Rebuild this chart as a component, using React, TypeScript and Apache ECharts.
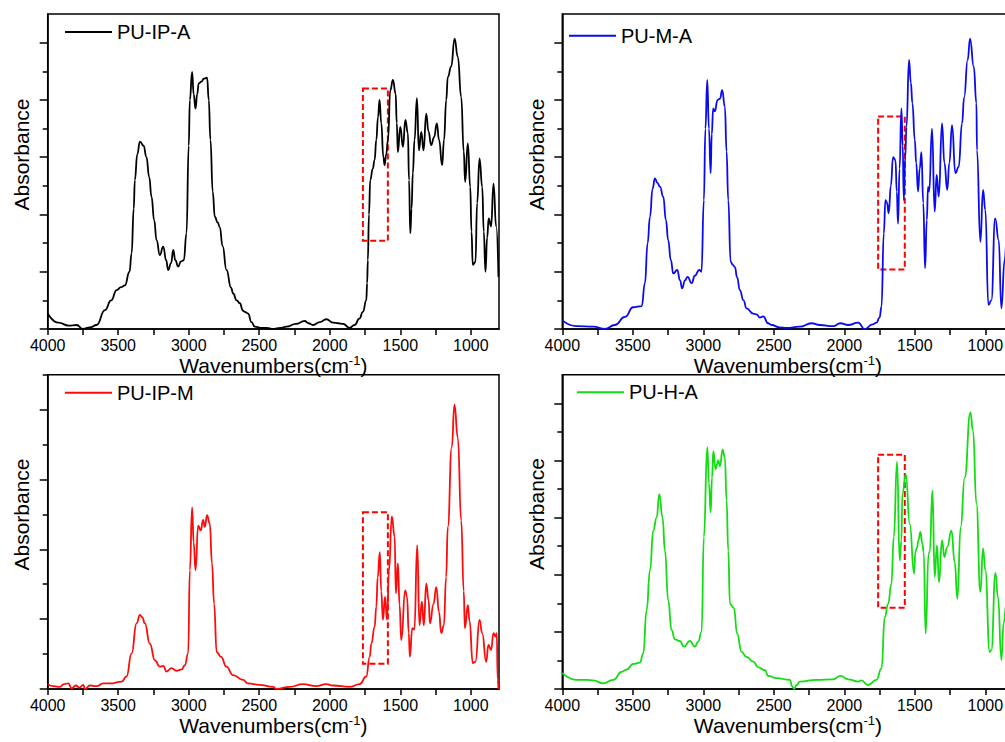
import React, { useEffect, useRef } from "react";
import * as echarts from "echarts";

// FTIR spectra: [wavenumber (cm-1), absorbance (a.u.)]
const puIpA: [number, number][] = [
  [4000, 0.27], [3925, 0.11], [3850, 0.06], [3795, 0.07], [3750, 0.0], [3700, 0.03], [3653, 0.07],
  [3594, 0.33], [3550, 0.5], [3511, 0.68], [3480, 0.73], [3453, 0.76], [3420, 1.0], [3405, 1.32],
  [3390, 2.1], [3382, 2.6], [3365, 3.05], [3346, 3.27], [3320, 3.2], [3300, 3.0], [3280, 2.65],
  [3264, 2.31], [3245, 1.9], [3228, 1.55], [3205, 1.29], [3181, 1.44], [3160, 1.2], [3146, 1.03],
  [3125, 1.15], [3110, 1.38], [3095, 1.2], [3075, 1.09], [3055, 1.18], [3035, 1.2], [3016, 1.67],
  [3000, 3.2], [2992, 4.0], [2976, 4.49], [2965, 4.1], [2952, 3.85], [2940, 4.1], [2929, 4.29],
  [2910, 4.32], [2893, 4.37], [2870, 4.39], [2858, 4.0], [2846, 3.3], [2830, 2.4], [2815, 1.96],
  [2795, 1.86], [2780, 1.78], [2760, 1.45], [2732, 1.03], [2700, 0.72], [2685, 0.62], [2660, 0.5],
  [2638, 0.45], [2615, 0.32], [2603, 0.3], [2579, 0.27], [2555, 0.12], [2532, 0.04], [2480, 0.02],
  [2449, 0.02], [2402, 0.0], [2350, 0.02], [2307, 0.04], [2240, 0.09], [2178, 0.14], [2150, 0.1],
  [2119, 0.07], [2070, 0.12], [2025, 0.17], [1977, 0.11], [1940, 0.1], [1906, 0.09], [1859, 0.02],
  [1824, 0.07], [1790, 0.18], [1765, 0.3], [1741, 0.5], [1735, 0.8], [1730, 1.2], [1722, 2.0],
  [1713, 2.6], [1695, 2.8], [1682, 2.95], [1670, 3.3], [1658, 3.7], [1647, 4.0], [1635, 3.6],
  [1620, 3.0], [1611, 2.86], [1600, 3.05], [1587, 3.3], [1571, 4.17], [1552, 4.35], [1533, 4.11],
  [1525, 3.6], [1517, 3.09], [1500, 3.53], [1481, 3.18], [1464, 3.65], [1446, 3.42], [1438, 2.6],
  [1429, 1.67], [1420, 2.1], [1411, 2.72], [1399, 3.3], [1382, 4.03], [1368, 3.12], [1351, 3.44],
  [1335, 3.12], [1316, 3.76], [1300, 3.45], [1281, 3.21], [1260, 3.35], [1241, 3.59], [1225, 3.3],
  [1203, 2.86], [1190, 3.3], [1174, 4.0], [1163, 4.4], [1139, 4.58], [1115, 5.07], [1092, 4.75],
  [1068, 4.05], [1050, 3.1], [1040, 2.57], [1021, 3.24], [1004, 2.48], [995, 1.7], [986, 1.12],
  [967, 1.17], [955, 2.2], [938, 2.98], [919, 2.48], [908, 1.7], [896, 1.0], [884, 1.6], [873, 1.93],
  [856, 1.79], [839, 2.54], [820, 1.79], [804, 0.91],
];

const puMA: [number, number][] = [
  [4000, 0.15], [3898, 0.05], [3780, 0.04], [3697, 0.0], [3627, 0.07], [3556, 0.21], [3497, 0.38],
  [3437, 0.4], [3414, 0.8], [3395, 1.5], [3378, 1.96], [3360, 2.45], [3343, 2.63], [3325, 2.55],
  [3307, 2.48], [3284, 2.31], [3265, 1.9], [3249, 1.55], [3230, 1.2], [3213, 0.97], [3185, 1.03],
  [3165, 0.85], [3150, 0.71], [3130, 0.85], [3111, 0.91], [3083, 0.8], [3060, 0.93], [3029, 1.03],
  [3013, 1.0], [2996, 2.25], [2985, 3.5], [2972, 4.35], [2960, 3.5], [2948, 2.72], [2940, 3.4],
  [2930, 3.85], [2918, 3.8], [2899, 4.0], [2882, 4.02], [2866, 4.17], [2847, 3.88], [2835, 3.1],
  [2823, 2.25], [2806, 1.17], [2790, 1.12], [2776, 1.08], [2760, 0.9], [2741, 0.68], [2715, 0.5],
  [2693, 0.36], [2646, 0.27], [2620, 0.25], [2599, 0.2], [2575, 0.22], [2540, 0.1], [2516, 0.07],
  [2460, 0.03], [2410, 0.02], [2316, 0.04], [2232, 0.1], [2174, 0.07], [2080, 0.05], [2027, 0.1],
  [1973, 0.07], [1902, 0.11], [1855, 0.0], [1800, 0.08], [1772, 0.11], [1750, 0.2], [1736, 0.39],
  [1720, 1.67], [1708, 2.25], [1697, 2.2], [1685, 2.02], [1670, 2.5], [1654, 3.0], [1637, 2.95],
  [1628, 2.4], [1619, 1.84], [1608, 2.8], [1595, 3.85], [1586, 3.2], [1578, 2.25], [1568, 3.0],
  [1559, 3.53], [1541, 4.7], [1528, 4.3], [1517, 3.94], [1500, 3.3], [1490, 2.9], [1477, 2.4],
  [1465, 2.8], [1453, 3.09], [1440, 2.2], [1427, 1.06], [1415, 1.9], [1406, 2.48], [1398, 2.4],
  [1378, 3.5], [1359, 2.05], [1345, 2.69], [1330, 2.31], [1307, 3.59], [1290, 2.9], [1270, 2.43],
  [1255, 2.9], [1236, 3.56], [1212, 2.72], [1189, 2.83], [1165, 3.59], [1150, 4.05], [1125, 4.7],
  [1108, 5.07], [1082, 4.58], [1063, 3.94], [1059, 3.12], [1035, 1.52], [1016, 2.43], [1000, 2.08],
  [978, 0.42], [957, 0.5], [930, 1.93], [905, 1.55], [886, 0.36], [863, 1.2], [845, 1.7],
  [825, 1.3], [800, 0.9],
];

const puIpM: [number, number][] = [
  [4000, 0.07], [3960, 0.04], [3913, 0.03], [3885, 0.07], [3854, 0.08], [3830, 0.01], [3800, 0.05],
  [3775, 0.02], [3748, 0.06], [3736, 0.0], [3700, 0.05], [3653, 0.04], [3606, 0.08], [3559, 0.08],
  [3476, 0.105], [3441, 0.18], [3405, 0.51], [3370, 0.94], [3346, 1.06], [3330, 1.03], [3311, 0.94],
  [3276, 0.65], [3240, 0.41], [3205, 0.32], [3181, 0.33], [3157, 0.25], [3122, 0.3], [3087, 0.26],
  [3050, 0.28], [3028, 0.34], [3004, 0.51], [2992, 1.7], [2976, 2.6], [2965, 2.1], [2952, 1.7],
  [2933, 2.34], [2915, 2.27], [2898, 2.42], [2886, 2.32], [2870, 2.49], [2851, 2.37], [2835, 1.8],
  [2820, 1.22], [2802, 0.53], [2771, 0.46], [2733, 0.32], [2686, 0.2], [2615, 0.13], [2580, 0.08],
  [2497, 0.06], [2402, 0.03], [2379, 0.0], [2284, 0.03], [2190, 0.07], [2096, 0.04], [2025, 0.07],
  [1977, 0.05], [1859, 0.03], [1788, 0.07], [1741, 0.18], [1717, 0.46], [1705, 0.65], [1682, 0.89],
  [1670, 1.18], [1660, 1.6], [1645, 1.96], [1635, 1.4], [1623, 0.99], [1608, 1.32], [1594, 0.99],
  [1580, 1.7], [1560, 2.47], [1540, 2.18], [1531, 1.37], [1517, 1.8], [1505, 1.2], [1493, 0.7],
  [1465, 1.41], [1452, 1.32], [1440, 0.8], [1432, 0.46], [1415, 0.87], [1400, 0.85], [1380, 2.06],
  [1364, 0.91], [1347, 1.25], [1333, 0.91], [1316, 1.51], [1299, 1.27], [1290, 0.94], [1264, 1.22],
  [1245, 1.46], [1225, 1.1], [1210, 0.8], [1191, 0.91], [1175, 1.6], [1163, 2.32], [1135, 3.46],
  [1116, 4.07], [1092, 3.6], [1068, 2.41], [1050, 1.4], [1042, 0.87], [1021, 1.2], [1009, 0.98],
  [986, 0.37], [967, 0.39], [938, 0.99], [919, 0.8], [891, 0.39], [875, 0.63], [856, 0.56],
  [839, 0.8], [825, 0.75], [816, 0.8], [809, 0.13], [804, 0.0],
];

const puHA: [number, number][] = [
  [4000, 0.28], [3898, 0.16], [3827, 0.16], [3780, 0.15], [3709, 0.1], [3638, 0.16], [3579, 0.3],
  [3544, 0.34], [3497, 0.44], [3450, 0.46], [3426, 0.62], [3402, 1.38], [3378, 2.08], [3355, 2.77],
  [3331, 3.0], [3312, 3.41], [3289, 3.0], [3272, 2.42], [3249, 1.55], [3225, 1.03], [3201, 0.87],
  [3166, 0.84], [3137, 0.74], [3095, 0.84], [3060, 0.74], [3036, 0.83], [3012, 1.0], [2996, 2.66],
  [2972, 4.23], [2960, 3.6], [2948, 3.09], [2938, 3.7], [2929, 4.16], [2913, 3.85], [2894, 4.0],
  [2882, 3.9], [2863, 4.19], [2847, 4.05], [2835, 3.3], [2823, 2.42], [2811, 1.49], [2783, 1.42],
  [2760, 0.97], [2729, 0.65], [2693, 0.56], [2646, 0.48], [2611, 0.38], [2563, 0.33], [2540, 0.23],
  [2481, 0.19], [2386, 0.16], [2370, 0.05], [2356, 0.0], [2339, 0.07], [2316, 0.13], [2197, 0.16],
  [2080, 0.17], [2027, 0.23], [1973, 0.17], [1902, 0.13], [1879, 0.15], [1831, 0.07], [1772, 0.16],
  [1736, 0.36], [1713, 1.26], [1689, 1.49], [1666, 1.84], [1649, 2.66], [1626, 3.98], [1607, 2.25],
  [1595, 2.6], [1588, 3.42], [1564, 3.76], [1536, 2.89], [1505, 2.02], [1496, 2.4], [1484, 2.48],
  [1475, 2.6], [1460, 2.75], [1447, 2.55], [1437, 2.4], [1423, 0.97], [1402, 2.37], [1394, 2.4],
  [1375, 3.47], [1359, 1.96], [1343, 2.51], [1328, 1.87], [1307, 2.6], [1290, 2.31], [1271, 2.48],
  [1240, 2.77], [1217, 2.22], [1198, 1.58], [1175, 2.83], [1146, 3.7], [1106, 4.84], [1087, 4.52],
  [1063, 3.24], [1035, 1.7], [1016, 2.46], [1000, 2.08], [969, 0.65], [957, 0.68], [928, 2.03],
  [910, 1.61], [886, 0.51], [870, 1.15], [850, 1.5], [825, 1.2], [800, 0.8],
];

const seriesNames = ["PU-IP-A", "PU-M-A", "PU-IP-M", "PU-H-A"];
const seriesData = [puIpA, puMA, puIpM, puHA];
const seriesColors = ["#000000", "#0a0aee", "#ff0a0a", "#11dd11"];

// Dashed highlight boxes: [wavenumber from, absorbance top, wavenumber to, absorbance bottom]
const highlightBoxes: [number, number, number, number][] = [
  [1765, 4.2, 1588, 1.54],
  [1760, 3.71, 1571, 1.04],
  [1765, 2.53, 1588, 0.36],
  [1760, 4.1, 1571, 1.42],
];

const yMaxima = [5.5, 5.5, 4.5, 5.5];
const xLabelValues = [1000, 1500, 2000, 2500, 3000, 3500, 4000];
const xTickValues = [1000, 1250, 1500, 1750, 2000, 2250, 2500, 2750, 3000, 3250, 3500, 3750, 4000];
const yMajorTicks = [0, 1, 2, 3, 4, 5];
const yMinorTicks = [0.5, 1.5, 2.5, 3.5, 4.5];

const FONT = "'Liberation Sans', Arial, Helvetica, sans-serif";

// panel geometry in pixels (the right-hand panels run past the visible edge)
const panels = [
  { left: 47.7, top: 14, width: 451.3, height: 315, legendLeft: 65, legendTop: 22, nameX: 21, nameY: 154.5 },
  { left: 562.3, top: 14, width: 451.2, height: 315, legendLeft: 569, legendTop: 25.7, nameX: 536, nameY: 154.5 },
  { left: 47.7, top: 374.7, width: 451.3, height: 314.3, legendLeft: 65, legendTop: 382.7, nameX: 21, nameY: 514.5 },
  { left: 562.3, top: 374.7, width: 451.2, height: 314.3, legendLeft: 577, legendTop: 382.3, nameX: 536, nameY: 514 },
];

export default function App() {
  const ref = useRef<HTMLDivElement>(null);

  useEffect(() => {
    if (!ref.current) return;
    const chart = echarts.init(ref.current, undefined, { renderer: "svg" });

    const axisColor = "#000";
    const grid = panels.map((p) => ({
      left: p.left,
      top: p.top,
      width: p.width,
      height: p.height,
      show: true,
      borderColor: axisColor,
      borderWidth: 1.5,
      backgroundColor: "transparent",
      containLabel: false,
    }));

    const xAxis = panels.map((_, i) => ({
      gridIndex: i,
      type: "value",
      min: 800,
      max: 4000,
      inverse: true,
      axisLine: { show: true, onZero: false, lineStyle: { color: axisColor, width: 1.5 } },
      axisTick: { show: true, customValues: xTickValues, length: 6, lineStyle: { color: axisColor, width: 1.5 } },
      axisLabel: {
        show: true,
        customValues: xLabelValues,
        color: axisColor,
        fontSize: 16,
        fontFamily: FONT,
        margin: 8,
        formatter: (v: number) => String(v),
      },
      splitLine: { show: false },
      name: "{a|Wavenumbers(cm}{b|-1}{a|)}",
      nameLocation: "middle",
      nameGap: 18,
      nameTextStyle: {
        color: axisColor,
        fontSize: 21,
        fontFamily: FONT,
        rich: {
          a: { fontSize: 21, fontFamily: FONT, color: axisColor, lineHeight: 24 },
          b: { fontSize: 13, fontFamily: FONT, color: axisColor, verticalAlign: "top", lineHeight: 14 },
        },
      },
    }));

    const yAxis: any[] = [];
    panels.forEach((_, i) => {
      yAxis.push({
        gridIndex: i,
        type: "value",
        position: "left",
        min: 0,
        max: yMaxima[i],
        axisLine: { show: true, onZero: false, lineStyle: { color: axisColor, width: 1.5 } },
        axisTick: { show: true, customValues: yMajorTicks, length: 8, lineStyle: { color: axisColor, width: 1.5 } },
        axisLabel: { show: false },
        splitLine: { show: false },
      });
      yAxis.push({
        gridIndex: i,
        type: "value",
        position: "left",
        min: 0,
        max: yMaxima[i],
        axisLine: { show: false },
        axisTick: { show: true, customValues: yMinorTicks, length: 5, lineStyle: { color: axisColor, width: 1.5 } },
        axisLabel: { show: false },
        splitLine: { show: false },
      });
    });

    const series = seriesData.map((data, i) => {
      const b = highlightBoxes[i];
      return {
        name: seriesNames[i],
        type: "line",
        xAxisIndex: i,
        yAxisIndex: i * 2,
        data,
        showSymbol: false,
        smooth: 0.5,
        smoothMonotone: "x",
        clip: true,
        lineStyle: { color: seriesColors[i], width: 1.8 },
        itemStyle: { color: seriesColors[i] },
        markArea: {
          silent: true,
          itemStyle: {
            color: "rgba(0,0,0,0)",
            borderColor: "#ff0000",
            borderWidth: 2,
            borderType: [6, 3],
          },
          data: [[{ xAxis: b[0], yAxis: b[1] }, { xAxis: b[2], yAxis: b[3] }]],
        },
      };
    });

    const legend = panels.map((p, i) => ({
      data: [seriesNames[i]],
      left: p.legendLeft,
      top: p.legendTop,
      padding: 0,
      icon: "rect",
      itemWidth: 47,
      itemHeight: 2,
      selectedMode: false,
      textStyle: { color: axisColor, fontSize: 20, fontFamily: FONT },
    }));

    const graphic = panels.map((p) => ({
      type: "text",
      x: p.nameX,
      y: p.nameY,
      rotation: Math.PI / 2,
      style: {
        text: "Absorbance",
        fontSize: 21,
        fontFamily: FONT,
        fill: axisColor,
        align: "center",
        verticalAlign: "middle",
      },
    }));

    chart.setOption({
      animation: false,
      backgroundColor: "#ffffff",
      grid,
      xAxis,
      yAxis,
      series,
      legend,
      graphic,
    } as any);

    return () => chart.dispose();
  }, []);

  return (
    <div style={{ position: "fixed", left: 0, top: 0, width: 1005, height: 742, overflow: "hidden" }}>
      <div ref={ref} style={{ width: 1030, height: 742 }} />
    </div>
  );
}
